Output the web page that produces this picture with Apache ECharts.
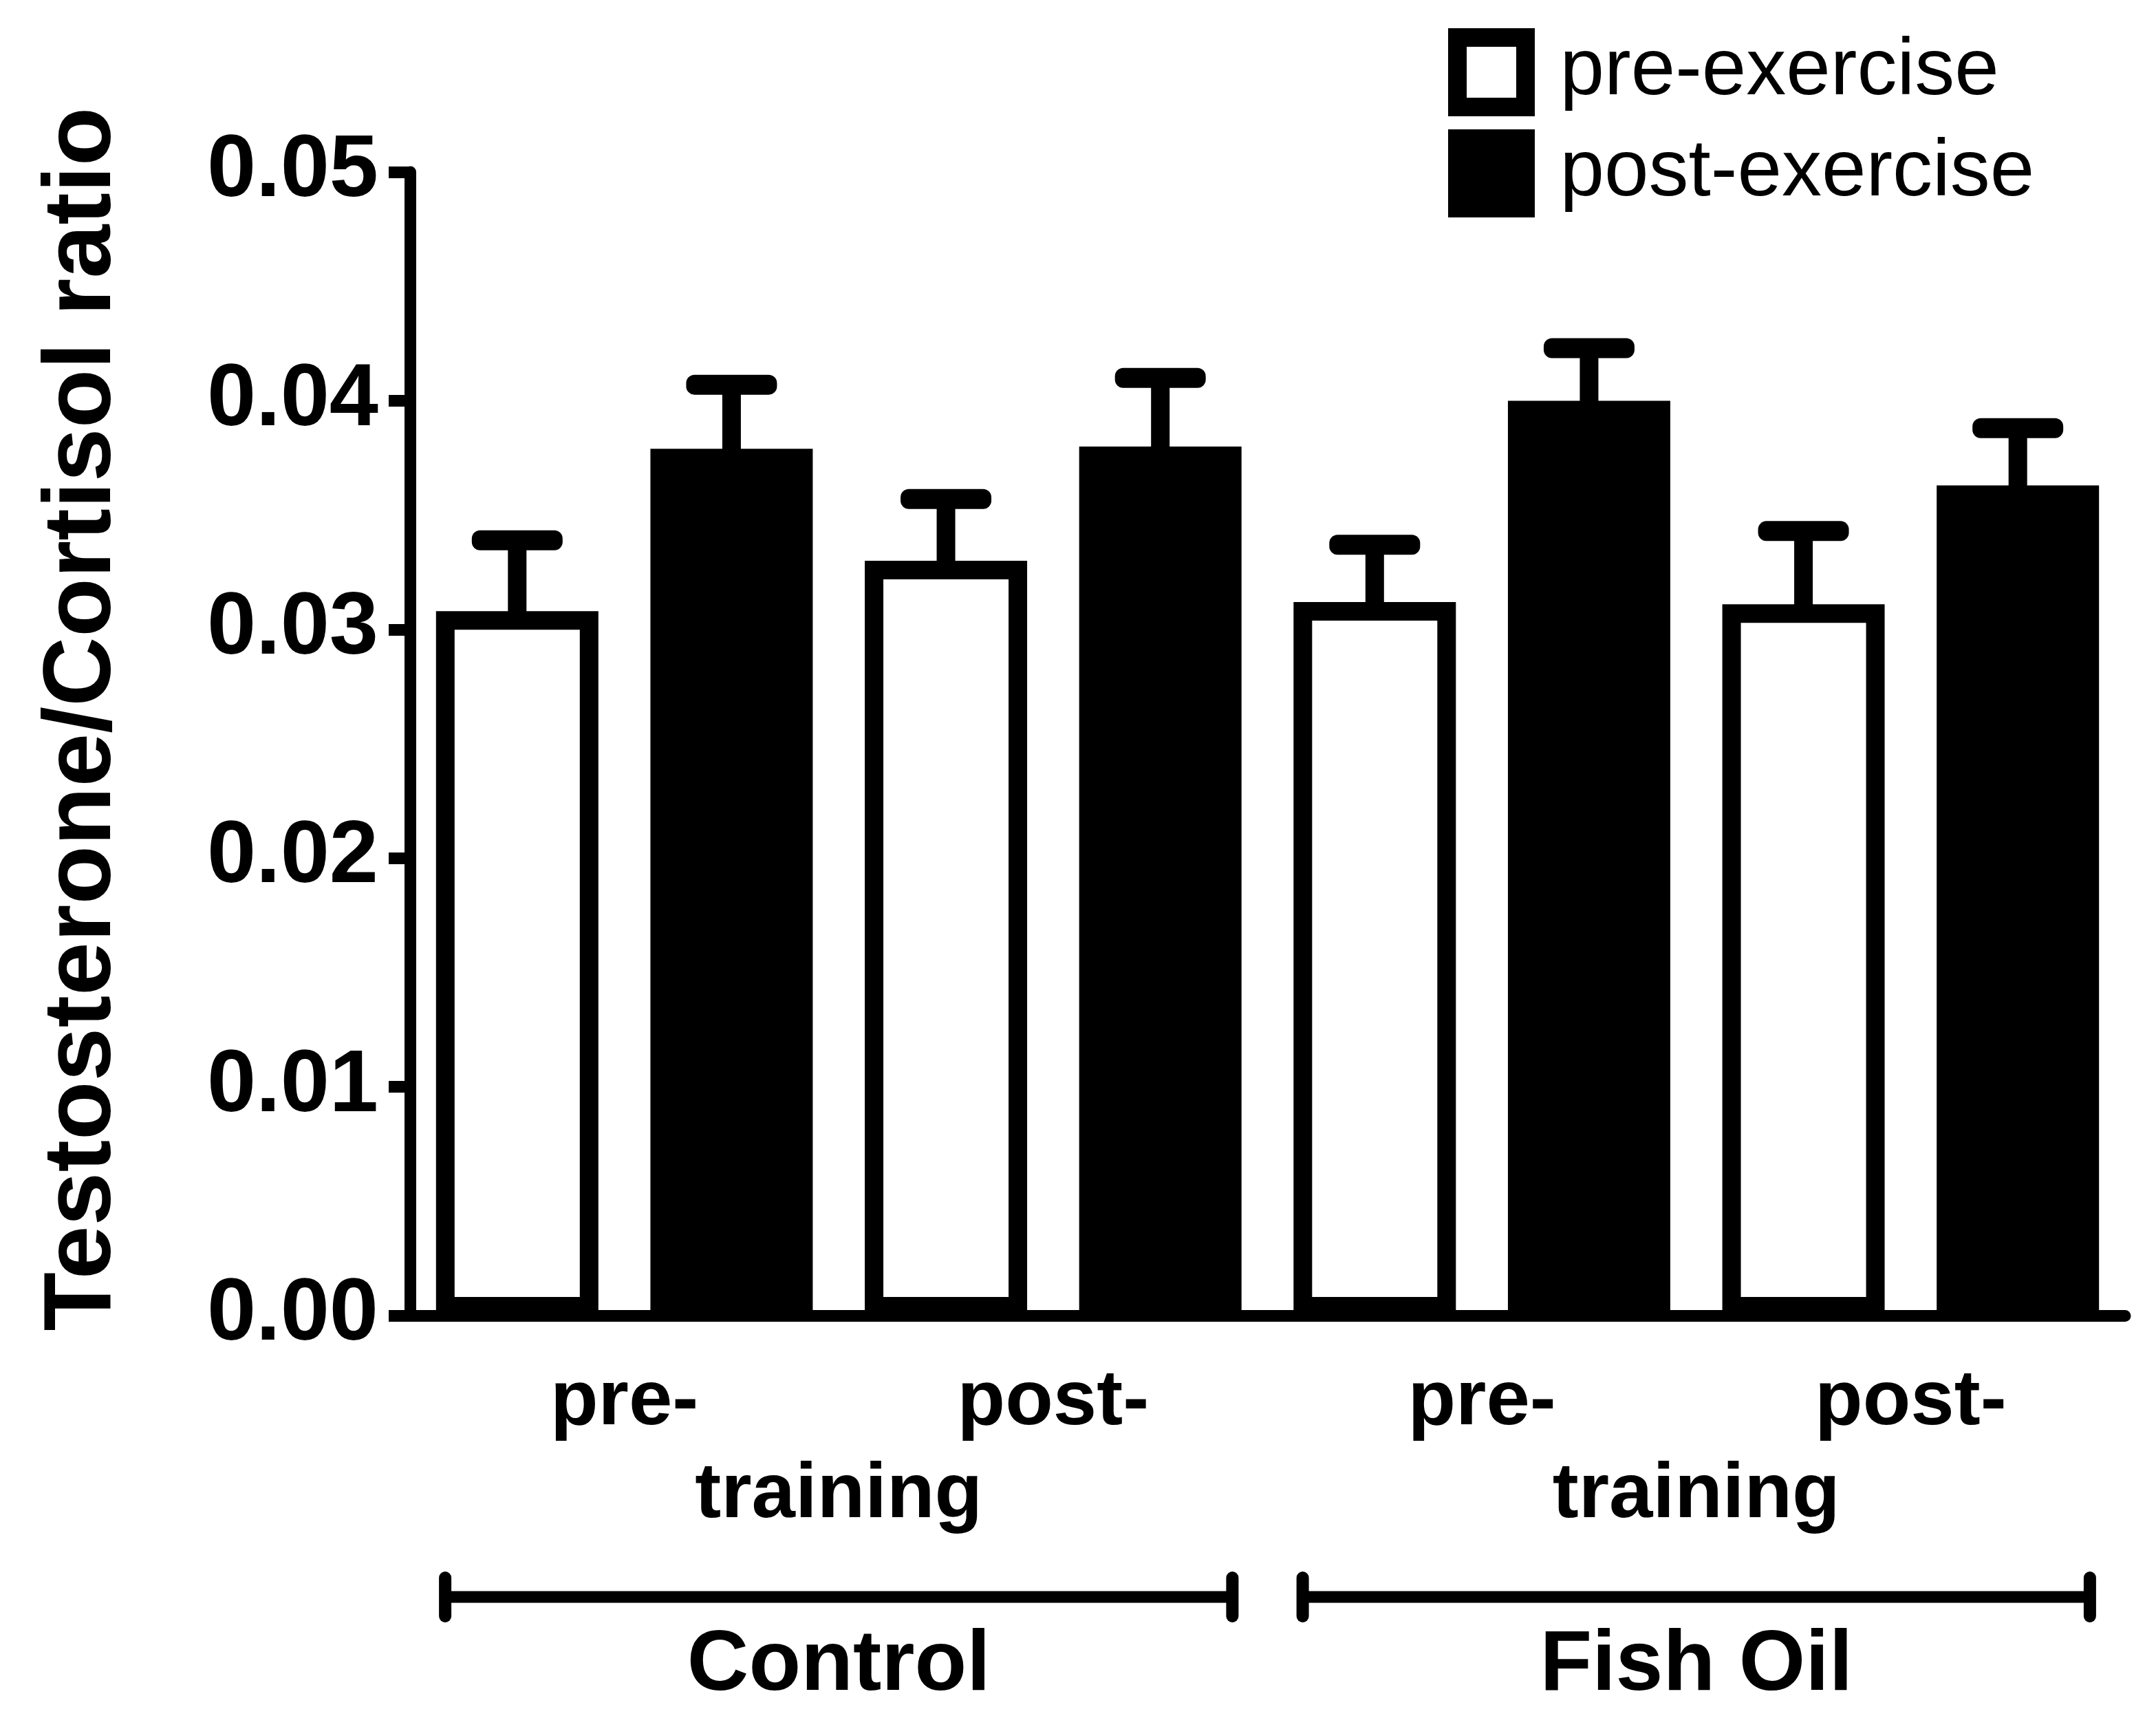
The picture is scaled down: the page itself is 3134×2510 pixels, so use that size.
<!DOCTYPE html>
<html>
<head>
  <meta charset="utf-8">
  <title>Testosterone/Cortisol ratio</title>
  <script src="https://cdn.jsdelivr.net/npm/echarts@6/dist/echarts.min.js"></script>
  <style>
    html, body { margin: 0; padding: 0; background: #fff; }
  </style>
</head>
<body>
  <div id="main" style="width: 3134px;height:2510px;"></div>
  <script type="text/javascript">
    // data
    var groups = ['Control', 'Fish Oil'];
    var trainingLabels = ['training', 'training'];
    var phases = ['pre-', 'post-', 'pre-', 'post-'];
    var slots = ['C pre pre', 'C pre post', 'C post pre', 'C post post',
                 'FO pre pre', 'FO pre post', 'FO post pre', 'FO post post'];
    var yTicks = [0, 0.01, 0.02, 0.03, 0.04, 0.05];

    var preExercise = [0.0308, 0.0330, 0.0312, 0.0311];
    var preExerciseErr = [0.0031, 0.0027, 0.0025, 0.0032];
    var postExercise = [0.0379, 0.0380, 0.0400, 0.0363];
    var postExerciseErr = [0.0028, 0.0030, 0.0023, 0.0025];

    var FONT = '"Liberation Sans", Arial, Helvetica, sans-serif';

    // spread the two series onto the 8 bar slots
    var preData = [], postData = [], errData = [];
    preExercise.forEach(function (v, i) {
      preData.push(v, null);
      postData.push(null, postExercise[i]);
      errData.push([2 * i, v, v + preExerciseErr[i]]);
      errData.push([2 * i + 1, postExercise[i], postExercise[i] + postExerciseErr[i]]);
    });

    var myChart = echarts.init(document.getElementById('main'));

    function renderErr(params, api) {
      var base = api.coord([api.value(0), api.value(1)]);
      var top = api.coord([api.value(0), api.value(2)]);
      return {
        type: 'group',
        children: [
          { type: 'rect', shape: { x: base[0] - 13.5, y: top[1], width: 27, height: base[1] - top[1] + 10 },
            style: { fill: '#000' } },
          { type: 'rect', shape: { x: top[0] - 66, y: top[1] - 14.5, width: 132, height: 29, r: 12 },
            style: { fill: '#000' } }
        ]
      };
    }

    function renderBracket(params, api) {
      var c = api.coord([api.value(0), 0]);
      var half = api.size([1, 0])[0] * 0.459;
      var y = c[1] + 409;
      return {
        type: 'group',
        children: [
          { type: 'rect', shape: { x: c[0] - half, y: y - 8.5, width: 2 * half, height: 17 }, style: { fill: '#000' } },
          { type: 'rect', shape: { x: c[0] - half - 9, y: y - 37, width: 18, height: 74, r: 9 }, style: { fill: '#000' } },
          { type: 'rect', shape: { x: c[0] + half - 9, y: y - 37, width: 18, height: 74, r: 9 }, style: { fill: '#000' } }
        ]
      };
    }

    var hiddenAxis = {
      type: 'category',
      position: 'bottom',
      gridIndex: 0,
      boundaryGap: true,
      axisLine: { show: false },
      axisTick: { show: false },
      splitLine: { show: false }
    };

    var option = {
      animation: false,
      textStyle: { fontFamily: FONT },
      grid: { left: 596, right: 45, top: 250, bottom: 598 },
      legend: {
        orient: 'vertical',
        left: 2105,
        top: 41,
        padding: 0,
        icon: 'rect',
        itemWidth: 99,
        itemHeight: 101,
        itemGap: 19,
        itemStyle: { borderWidth: 27, borderColor: '#000' },
        textStyle: { fontSize: 116, fontFamily: FONT, color: '#000', padding: [0, 0, 0, 45] },
        data: ['pre-exercise', 'post-exercise']
      },
      xAxis: [
        {
          type: 'category',
          data: slots,
          position: 'bottom',
          boundaryGap: true,
          axisLine: { lineStyle: { color: '#000', width: 17 } },
          axisTick: { alignWithLabel: true, length: 27, lineStyle: { color: '#000', width: 17 } },
          axisLabel: { show: false }
        },
        Object.assign({}, hiddenAxis, {
          data: phases,
          axisLabel: { margin: 70, fontSize: 114, fontWeight: 'bold', color: '#000', fontFamily: FONT }
        }),
        Object.assign({}, hiddenAxis, {
          data: trainingLabels,
          axisLabel: { margin: 205, fontSize: 114, fontWeight: 'bold', color: '#000', fontFamily: FONT }
        }),
        Object.assign({}, hiddenAxis, {
          data: groups,
          axisLabel: { margin: 448, fontSize: 124, fontWeight: 'bold', color: '#000', fontFamily: FONT }
        })
      ],
      yAxis: {
        type: 'value',
        min: yTicks[0],
        max: yTicks[yTicks.length - 1],
        interval: 0.01,
        name: 'Testosterone/Cortisol ratio',
        nameLocation: 'middle',
        nameGap: 405,
        nameTextStyle: { fontSize: 140, fontWeight: 'bold', color: '#000', fontFamily: FONT, padding: [0, 0, 0, 72] },
        axisLine: { show: true, lineStyle: { color: '#000', width: 17 } },
        axisTick: { show: true, length: 31, lineStyle: { color: '#000', width: 17 } },
        splitLine: { show: false },
        axisLabel: {
          margin: 46,
          fontSize: 128,
          fontWeight: 'bold',
          color: '#000',
          fontFamily: FONT,
          formatter: function (v) { return v.toFixed(2); }
        }
      },
      series: [
        {
          name: 'pre-exercise',
          type: 'bar',
          xAxisIndex: 0,
          data: preData,
          barWidth: 236,
          barGap: '-100%',
          itemStyle: { color: '#fff', borderColor: '#000', borderWidth: 27 },
          z: 3
        },
        {
          name: 'post-exercise',
          type: 'bar',
          xAxisIndex: 0,
          data: postData,
          barWidth: 236,
          barGap: '-100%',
          itemStyle: { color: '#000', borderColor: '#000', borderWidth: 27 },
          z: 3
        },
        {
          type: 'custom',
          xAxisIndex: 0,
          data: errData,
          renderItem: renderErr,
          clip: false,
          z: 2
        },
        {
          type: 'custom',
          xAxisIndex: 3,
          data: [[0], [1]],
          renderItem: renderBracket,
          clip: false
        }
      ]
    };

    myChart.setOption(option);
  </script>
</body>
</html>
